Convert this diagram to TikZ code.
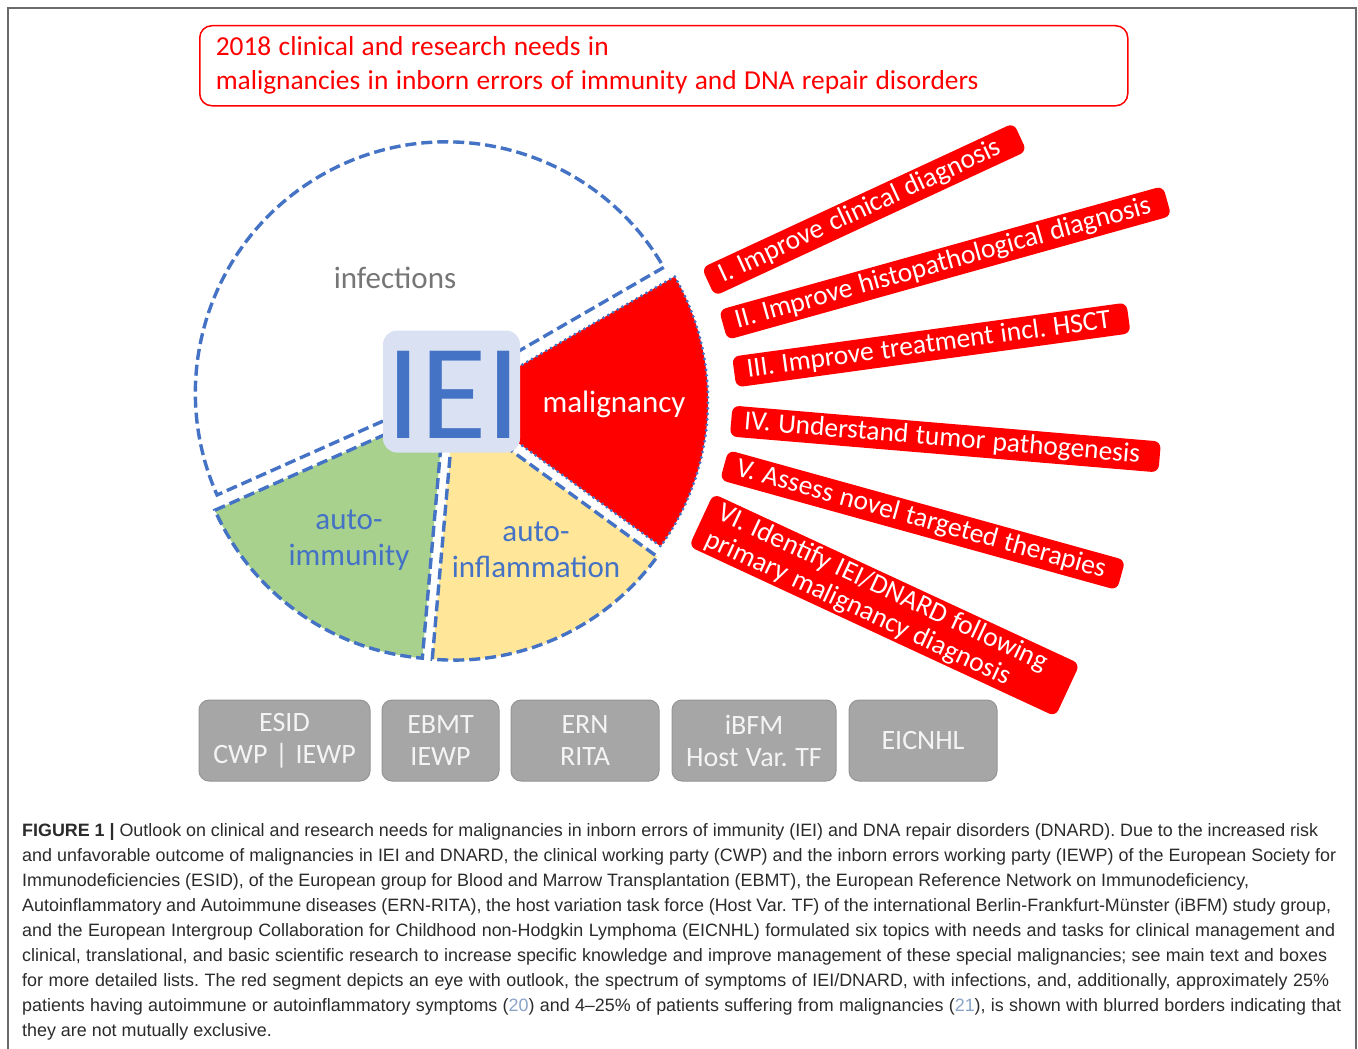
\documentclass[tikz,border=0pt]{standalone}
\usepackage{fontspec}
\setmainfont{Liberation Sans}
\newfontfamily\calfont{Carlito}
\newcommand\tightsp{\spaceskip=0.27em plus 0.06em minus 0.04em\relax}
\usetikzlibrary{calc}
\definecolor{pblue}{HTML}{4472C4}
\definecolor{pred}{HTML}{FF0000}
\definecolor{pgreen}{HTML}{A9D18E}
\definecolor{pyellow}{HTML}{FFE699}
\definecolor{ieifill}{HTML}{D9E1F2}
\definecolor{infgray}{HTML}{767676}
\definecolor{boxgray}{HTML}{A6A6A6}
\definecolor{boxedge}{HTML}{959595}
\definecolor{boxtext}{HTML}{F4F4F4}
\definecolor{framegray}{HTML}{6A6A6A}
\definecolor{captext}{HTML}{2B2B2B}
\definecolor{citeblue}{HTML}{8AA4C8}
\frenchspacing
\begin{document}
\begin{tikzpicture}[x=1pt,y=1pt,
  pieline/.style={draw=pblue, line width=3.4pt, dash pattern=on 11pt off 5pt},
  piedot/.style={draw=pblue, line width=3.2pt, line cap=round, dash pattern=on 0pt off 5.5pt},
  pielabel/.style={font=\calfont\fontsize{31}{36}\selectfont, align=center, inner sep=0pt},
  redbar/.style={fill=pred, rounded corners=7pt, text=white, font=\calfont\fontsize{27.5}{29}\selectfont, execute at begin node=\tightsp, align=left, inner xsep=13pt, inner ysep=0pt, minimum height=31pt, anchor=west},
  orgbox/.style={fill=boxgray, draw=boxedge, line width=1pt, rounded corners=10pt, text=boxtext, font=\calfont\fontsize{28}{32}\selectfont, execute at begin node=\tightsp, align=center, minimum height=81pt, inner sep=0pt},
  capline/.style={anchor=base west, inner sep=0pt, text=captext, font=\fontsize{17.9}{20}\selectfont},
  titlebox/.style={draw=pred, line width=1.5pt, rounded corners=12pt, text=pred, font=\calfont\fontsize{27.4}{34}\selectfont, execute at begin node=\tightsp, align=left, inner xsep=16pt, inner ysep=0pt, minimum height=80pt}
]
\useasboundingbox (0,0) rectangle (1358,-1049);
\fill[white] (0,0) rectangle (1358,-1049);
% frame
\draw[framegray, line width=2pt] (8,-1049) -- (8,-8) -- (1356,-8) -- (1356,-1049);

% title
\node[titlebox, text width=896pt, anchor=north west] (title) at (199,-25)
  {2018 clinical and research needs in\\malignancies in inborn errors of immunity and DNA repair disorders};

% pie
\coordinate (C) at (450,-400);
\path[fill=white, pieline] ($(C)+(117:8)$) -- ++(30:251) arc[start angle=30, end angle=204, radius=251] -- cycle;
\path[fill=pgreen, pieline] ($(C)+(234.5:10)$) -- ++(204:251) arc[start angle=204, end angle=265, radius=251] -- cycle;
\path[fill=pyellow, pieline] ($(C)+(294.5:10)$) -- ++(265:251) arc[start angle=265, end angle=324, radius=251] -- cycle;
\path[fill=pred, piedot] ($(C)+(357:10)$) -- ++(324:248) arc[start angle=324, end angle=390, radius=248] -- cycle;

\node[fill=ieifill, rounded corners=14pt, minimum width=137pt, minimum height=122pt, inner sep=0pt] (iei) at (451.5,-391.5) {};
\node[text=pblue, font=\calfont\fontsize{136}{136}\selectfont, inner sep=0pt] (ieitxt) at (453.5,-394.5) {IEI};

\node[pielabel, text=infgray] (inf) at (395,-278) {infections};
\node[pielabel, text=white] (mal) at (614,-404) {malignancy};
\node[pielabel, text=pblue] (aim) at (349,-540) {auto-\\immunity};
\node[pielabel, text=pblue] (ainf) at (536,-550) {auto-\\inflammation};

% red bars
\node[redbar, rotate=24.9, text width=318pt] (b1) at (708,-282) {\mbox{I. Improve clinical diagnosis}};
\node[redbar, rotate=15.6, text width=435pt] (b2) at (723,-325) {\mbox{II. Improve histopathological diagnosis}};
\node[redbar, rotate=7.8, text width=372pt] (b3) at (734,-372) {\mbox{III. Improve treatment incl. HSCT}};
\node[redbar, rotate=-4.8, text width=404pt] (b4) at (731,-421) {\mbox{IV. Understand tumor pathogenesis}};
\node[redbar, rotate=-15.5, text width=386pt] (b5) at (724,-465) {\mbox{V. Assess novel targeted therapies}};
\node[redbar, rotate=-24.9, text width=378pt, minimum height=58pt] (b6) at (701,-520) {\mbox{VI. Identify IEI/DNARD following}\\\mbox{primary malignancy diagnosis}};

% organisation boxes
\node[orgbox, minimum width=171pt] (esid) at (284.5,-740.5) {ESID\\CWP | IEWP};
\node[orgbox, minimum width=117pt] (ebmt) at (440.5,-740.5) {EBMT\\IEWP};
\node[orgbox, minimum width=148pt] (ern) at (585,-740.5) {ERN\\RITA};
\node[orgbox, minimum width=164pt] (ibfm) at (754,-740.5) {iBFM\\Host Var. TF};
\node[orgbox, minimum width=148pt] (eic) at (923,-740.5) {EICNHL};

% caption
\node[capline] (cap1) at (22,-836) {\makebox[1296pt][s]{\textbf{FIGURE 1 |} Outlook on clinical and research needs for malignancies in inborn errors of immunity (IEI) and DNA repair disorders (DNARD). Due to the increased risk}};
\node[capline] (cap2) at (22,-861.1) {\makebox[1314pt][s]{and unfavorable outcome of malignancies in IEI and DNARD, the clinical working party (CWP) and the inborn errors working party (IEWP) of the European Society for}};
\node[capline] (cap3) at (22,-886.2) {\makebox[1227pt][s]{Immunodeficiencies (ESID), of the European group for Blood and Marrow Transplantation (EBMT), the European Reference Network on Immunodeficiency,}};
\node[capline] (cap4) at (22,-911.3) {\makebox[1309pt][s]{Autoinflammatory and Autoimmune diseases (ERN-RITA), the host variation task force (Host Var. TF) of the international Berlin-Frankfurt-Münster (iBFM) study group,}};
\node[capline] (cap5) at (22,-936.4) {\makebox[1313pt][s]{and the European Intergroup Collaboration for Childhood non-Hodgkin Lymphoma (EICNHL) formulated six topics with needs and tasks for clinical management and}};
\node[capline] (cap6) at (22,-961.5) {\makebox[1305pt][s]{clinical, translational, and basic scientific research to increase specific knowledge and improve management of these special malignancies; see main text and boxes}};
\node[capline] (cap7) at (22,-986.6) {\makebox[1307pt][s]{for more detailed lists. The red segment depicts an eye with outlook, the spectrum of symptoms of IEI/DNARD, with infections, and, additionally, approximately 25\%}};
\node[capline] (cap8) at (22,-1011.7) {\makebox[1319pt][s]{patients having autoimmune or autoinflammatory symptoms ({\color{citeblue}20}) and 4--25\% of patients suffering from malignancies ({\color{citeblue}21}), is shown with blurred borders indicating that}};
\node[capline] (cap9) at (22,-1036.8) {they are not mutually exclusive.};
\end{tikzpicture}
\end{document}
